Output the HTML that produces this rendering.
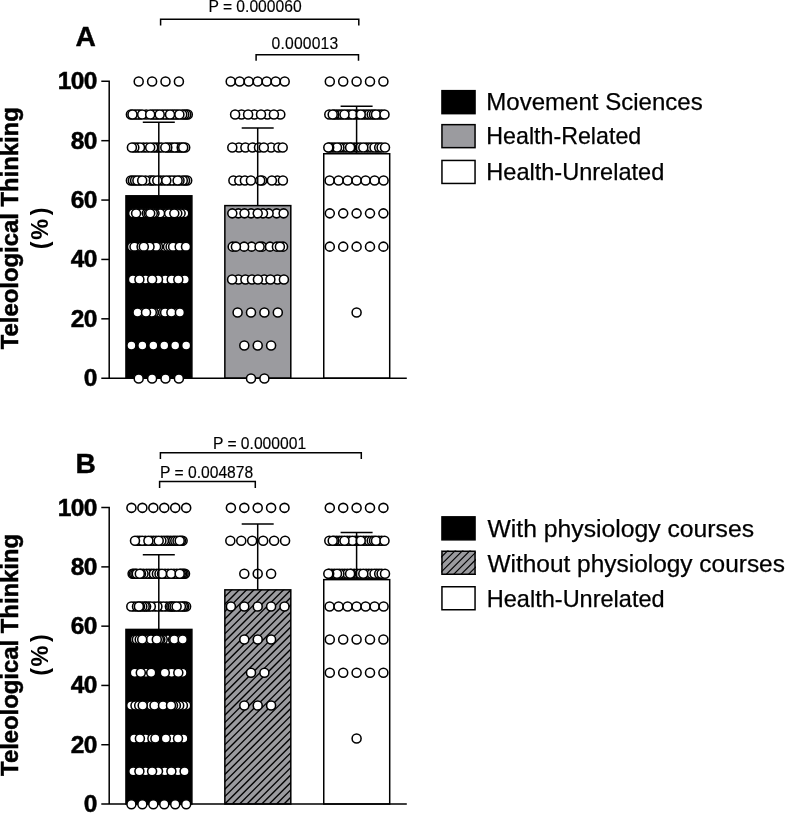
<!DOCTYPE html>
<html><head><meta charset="utf-8"><title>Teleological Thinking</title>
<style>
html,body{margin:0;padding:0;background:#fff;}
body{width:786px;height:814px;overflow:hidden;font-family:"Liberation Sans", sans-serif;}
svg{display:block;will-change:transform;}
</style></head><body>
<svg width="786" height="814" viewBox="0 0 786 814" font-family='"Liberation Sans", sans-serif' fill="#000">
<defs>
<clipPath id="clipB"><rect x="224.85" y="589.85" width="65.95" height="214.15"/></clipPath>
<clipPath id="lclipB"><rect x="441.2" y="550.5" width="34.7" height="24.5"/></clipPath>
</defs>
<rect x="125.95" y="195.81" width="65.95" height="182.39" fill="#000" stroke="#000" stroke-width="1.5"/>
<rect x="224.85" y="205.61" width="65.95" height="172.59" fill="#9b9b9f" stroke="#000" stroke-width="1.5"/>
<rect x="323.75" y="153.74" width="65.95" height="224.46" fill="#fff" stroke="#000" stroke-width="1.5"/>
<path d="M101.3 81.30 H109.2 V378.20 M101.3 378.20 H406.8" fill="none" stroke="#000" stroke-width="1.5"/>
<line x1="101.3" y1="318.82" x2="109.2" y2="318.82" stroke="#000" stroke-width="1.5"/>
<line x1="101.3" y1="259.44" x2="109.2" y2="259.44" stroke="#000" stroke-width="1.5"/>
<line x1="101.3" y1="200.06" x2="109.2" y2="200.06" stroke="#000" stroke-width="1.5"/>
<line x1="101.3" y1="140.68" x2="109.2" y2="140.68" stroke="#000" stroke-width="1.5"/>
<text x="96.9" y="386.20" text-anchor="end" font-weight="bold" font-size="24.5" letter-spacing="-0.6" stroke="#000" stroke-width="0.5">0</text>
<text x="96.9" y="326.82" text-anchor="end" font-weight="bold" font-size="24.5" letter-spacing="-0.6" stroke="#000" stroke-width="0.5">20</text>
<text x="96.9" y="267.44" text-anchor="end" font-weight="bold" font-size="24.5" letter-spacing="-0.6" stroke="#000" stroke-width="0.5">40</text>
<text x="96.9" y="208.06" text-anchor="end" font-weight="bold" font-size="24.5" letter-spacing="-0.6" stroke="#000" stroke-width="0.5">60</text>
<text x="96.9" y="148.68" text-anchor="end" font-weight="bold" font-size="24.5" letter-spacing="-0.6" stroke="#000" stroke-width="0.5">80</text>
<text x="96.9" y="89.30" text-anchor="end" font-weight="bold" font-size="24.5" letter-spacing="-0.6" stroke="#000" stroke-width="0.5">100</text>
<g fill="#fff" stroke="#000" stroke-width="1.55">
<circle cx="138.70" cy="81.55" r="4.5"/>
<circle cx="152.10" cy="81.55" r="4.5"/>
<circle cx="165.50" cy="81.55" r="4.5"/>
<circle cx="178.90" cy="81.55" r="4.5"/>
<circle cx="134.95" cy="114.51" r="4.5"/>
<circle cx="139.80" cy="114.51" r="4.5"/>
<circle cx="152.60" cy="114.51" r="4.5"/>
<circle cx="157.35" cy="114.51" r="4.5"/>
<circle cx="162.30" cy="114.51" r="4.5"/>
<circle cx="167.45" cy="114.51" r="4.5"/>
<circle cx="172.35" cy="114.51" r="4.5"/>
<circle cx="177.05" cy="114.51" r="4.5"/>
<circle cx="130.90" cy="114.51" r="4.5"/>
<circle cx="187.80" cy="114.51" r="4.5"/>
<circle cx="186.20" cy="114.51" r="4.5"/>
<circle cx="184.20" cy="114.51" r="4.5"/>
<circle cx="182.20" cy="114.51" r="4.5"/>
<circle cx="137.40" cy="114.51" r="4.5"/>
<circle cx="146.20" cy="114.51" r="4.5"/>
<circle cx="155.00" cy="114.51" r="4.5"/>
<circle cx="164.90" cy="114.51" r="4.5"/>
<circle cx="174.70" cy="114.51" r="4.5"/>
<circle cx="132.50" cy="114.51" r="4.5"/>
<circle cx="142.20" cy="114.51" r="4.5"/>
<circle cx="150.20" cy="114.51" r="4.5"/>
<circle cx="159.70" cy="114.51" r="4.5"/>
<circle cx="170.00" cy="114.51" r="4.5"/>
<circle cx="179.40" cy="114.51" r="4.5"/>
<circle cx="137.15" cy="147.46" r="4.5"/>
<circle cx="143.40" cy="147.46" r="4.5"/>
<circle cx="146.80" cy="147.46" r="4.5"/>
<circle cx="155.97" cy="147.46" r="4.5"/>
<circle cx="158.73" cy="147.46" r="4.5"/>
<circle cx="169.77" cy="147.46" r="4.5"/>
<circle cx="172.23" cy="147.46" r="4.5"/>
<circle cx="177.03" cy="147.46" r="4.5"/>
<circle cx="179.37" cy="147.46" r="4.5"/>
<circle cx="161.50" cy="147.46" r="4.5"/>
<circle cx="174.70" cy="147.46" r="4.5"/>
<circle cx="140.00" cy="147.46" r="4.5"/>
<circle cx="134.30" cy="147.46" r="4.5"/>
<circle cx="153.20" cy="147.46" r="4.5"/>
<circle cx="167.30" cy="147.46" r="4.5"/>
<circle cx="185.20" cy="147.46" r="4.5"/>
<circle cx="181.70" cy="147.46" r="4.5"/>
<circle cx="131.90" cy="147.46" r="4.5"/>
<circle cx="150.20" cy="147.46" r="4.5"/>
<circle cx="165.30" cy="147.46" r="4.5"/>
<circle cx="183.20" cy="147.46" r="4.5"/>
<circle cx="139.80" cy="180.42" r="4.5"/>
<circle cx="151.80" cy="180.42" r="4.5"/>
<circle cx="160.30" cy="180.42" r="4.5"/>
<circle cx="163.30" cy="180.42" r="4.5"/>
<circle cx="169.10" cy="180.42" r="4.5"/>
<circle cx="174.75" cy="180.42" r="4.5"/>
<circle cx="130.90" cy="180.42" r="4.5"/>
<circle cx="132.90" cy="180.42" r="4.5"/>
<circle cx="135.10" cy="180.42" r="4.5"/>
<circle cx="137.40" cy="180.42" r="4.5"/>
<circle cx="149.70" cy="180.42" r="4.5"/>
<circle cx="145.60" cy="180.42" r="4.5"/>
<circle cx="153.90" cy="180.42" r="4.5"/>
<circle cx="171.90" cy="180.42" r="4.5"/>
<circle cx="187.20" cy="180.42" r="4.5"/>
<circle cx="185.00" cy="180.42" r="4.5"/>
<circle cx="182.80" cy="180.42" r="4.5"/>
<circle cx="179.50" cy="180.42" r="4.5"/>
<circle cx="142.20" cy="180.42" r="4.5"/>
<circle cx="157.30" cy="180.42" r="4.5"/>
<circle cx="166.30" cy="180.42" r="4.5"/>
<circle cx="177.60" cy="180.42" r="4.5"/>
<circle cx="138.75" cy="213.37" r="4.5"/>
<circle cx="144.10" cy="213.37" r="4.5"/>
<circle cx="157.30" cy="213.37" r="4.5"/>
<circle cx="163.10" cy="213.37" r="4.5"/>
<circle cx="166.10" cy="213.37" r="4.5"/>
<circle cx="171.70" cy="213.37" r="4.5"/>
<circle cx="141.40" cy="213.37" r="4.5"/>
<circle cx="133.10" cy="213.37" r="4.5"/>
<circle cx="146.80" cy="213.37" r="4.5"/>
<circle cx="148.60" cy="213.37" r="4.5"/>
<circle cx="160.10" cy="213.37" r="4.5"/>
<circle cx="154.50" cy="213.37" r="4.5"/>
<circle cx="152.80" cy="213.37" r="4.5"/>
<circle cx="169.10" cy="213.37" r="4.5"/>
<circle cx="184.30" cy="213.37" r="4.5"/>
<circle cx="180.60" cy="213.37" r="4.5"/>
<circle cx="177.30" cy="213.37" r="4.5"/>
<circle cx="136.10" cy="213.37" r="4.5"/>
<circle cx="150.20" cy="213.37" r="4.5"/>
<circle cx="174.30" cy="213.37" r="4.5"/>
<circle cx="136.87" cy="246.63" r="4.5"/>
<circle cx="139.23" cy="246.63" r="4.5"/>
<circle cx="146.65" cy="246.63" r="4.5"/>
<circle cx="152.80" cy="246.63" r="4.5"/>
<circle cx="161.33" cy="246.63" r="4.5"/>
<circle cx="164.67" cy="246.63" r="4.5"/>
<circle cx="176.40" cy="246.63" r="4.5"/>
<circle cx="182.85" cy="246.63" r="4.5"/>
<circle cx="132.00" cy="246.63" r="4.5"/>
<circle cx="134.50" cy="246.63" r="4.5"/>
<circle cx="141.60" cy="246.63" r="4.5"/>
<circle cx="158.00" cy="246.63" r="4.5"/>
<circle cx="156.10" cy="246.63" r="4.5"/>
<circle cx="149.50" cy="246.63" r="4.5"/>
<circle cx="168.00" cy="246.63" r="4.5"/>
<circle cx="170.60" cy="246.63" r="4.5"/>
<circle cx="173.10" cy="246.63" r="4.5"/>
<circle cx="179.70" cy="246.63" r="4.5"/>
<circle cx="143.80" cy="246.63" r="4.5"/>
<circle cx="186.00" cy="246.63" r="4.5"/>
<circle cx="136.15" cy="279.58" r="4.5"/>
<circle cx="142.45" cy="279.58" r="4.5"/>
<circle cx="148.80" cy="279.58" r="4.5"/>
<circle cx="155.05" cy="279.58" r="4.5"/>
<circle cx="160.43" cy="279.58" r="4.5"/>
<circle cx="162.87" cy="279.58" r="4.5"/>
<circle cx="168.50" cy="279.58" r="4.5"/>
<circle cx="175.00" cy="279.58" r="4.5"/>
<circle cx="181.55" cy="279.58" r="4.5"/>
<circle cx="132.90" cy="279.58" r="4.5"/>
<circle cx="145.50" cy="279.58" r="4.5"/>
<circle cx="165.30" cy="279.58" r="4.5"/>
<circle cx="158.00" cy="279.58" r="4.5"/>
<circle cx="171.70" cy="279.58" r="4.5"/>
<circle cx="184.80" cy="279.58" r="4.5"/>
<circle cx="139.40" cy="279.58" r="4.5"/>
<circle cx="152.10" cy="279.58" r="4.5"/>
<circle cx="178.30" cy="279.58" r="4.5"/>
<circle cx="140.33" cy="312.54" r="4.5"/>
<circle cx="143.17" cy="312.54" r="4.5"/>
<circle cx="148.90" cy="312.54" r="4.5"/>
<circle cx="156.87" cy="312.54" r="4.5"/>
<circle cx="160.03" cy="312.54" r="4.5"/>
<circle cx="168.25" cy="312.54" r="4.5"/>
<circle cx="174.23" cy="312.54" r="4.5"/>
<circle cx="177.07" cy="312.54" r="4.5"/>
<circle cx="153.70" cy="312.54" r="4.5"/>
<circle cx="151.80" cy="312.54" r="4.5"/>
<circle cx="163.20" cy="312.54" r="4.5"/>
<circle cx="165.10" cy="312.54" r="4.5"/>
<circle cx="137.50" cy="312.54" r="4.5"/>
<circle cx="146.00" cy="312.54" r="4.5"/>
<circle cx="171.40" cy="312.54" r="4.5"/>
<circle cx="179.90" cy="312.54" r="4.5"/>
<circle cx="131.43" cy="345.49" r="4.5"/>
<circle cx="142.38" cy="345.49" r="4.5"/>
<circle cx="153.33" cy="345.49" r="4.5"/>
<circle cx="164.28" cy="345.49" r="4.5"/>
<circle cx="175.23" cy="345.49" r="4.5"/>
<circle cx="186.18" cy="345.49" r="4.5"/>
<circle cx="138.70" cy="378.45" r="4.5"/>
<circle cx="152.10" cy="378.45" r="4.5"/>
<circle cx="165.50" cy="378.45" r="4.5"/>
<circle cx="178.90" cy="378.45" r="4.5"/>
<circle cx="230.70" cy="81.55" r="4.5"/>
<circle cx="239.70" cy="81.55" r="4.5"/>
<circle cx="248.70" cy="81.55" r="4.5"/>
<circle cx="257.70" cy="81.55" r="4.5"/>
<circle cx="266.70" cy="81.55" r="4.5"/>
<circle cx="275.70" cy="81.55" r="4.5"/>
<circle cx="284.70" cy="81.55" r="4.5"/>
<circle cx="241.50" cy="114.51" r="4.5"/>
<circle cx="254.40" cy="114.51" r="4.5"/>
<circle cx="267.40" cy="114.51" r="4.5"/>
<circle cx="280.30" cy="114.51" r="4.5"/>
<circle cx="235.10" cy="114.51" r="4.5"/>
<circle cx="248.10" cy="114.51" r="4.5"/>
<circle cx="261.00" cy="114.51" r="4.5"/>
<circle cx="273.90" cy="114.51" r="4.5"/>
<circle cx="238.90" cy="147.46" r="4.5"/>
<circle cx="271.10" cy="147.46" r="4.5"/>
<circle cx="245.40" cy="147.46" r="4.5"/>
<circle cx="252.50" cy="147.46" r="4.5"/>
<circle cx="259.00" cy="147.46" r="4.5"/>
<circle cx="278.30" cy="147.46" r="4.5"/>
<circle cx="232.30" cy="147.46" r="4.5"/>
<circle cx="263.80" cy="147.46" r="4.5"/>
<circle cx="282.70" cy="147.46" r="4.5"/>
<circle cx="233.40" cy="180.42" r="4.5"/>
<circle cx="239.30" cy="180.42" r="4.5"/>
<circle cx="244.90" cy="180.42" r="4.5"/>
<circle cx="262.10" cy="180.42" r="4.5"/>
<circle cx="260.20" cy="180.42" r="4.5"/>
<circle cx="277.40" cy="180.42" r="4.5"/>
<circle cx="250.90" cy="180.42" r="4.5"/>
<circle cx="271.90" cy="180.42" r="4.5"/>
<circle cx="282.90" cy="180.42" r="4.5"/>
<circle cx="238.40" cy="213.37" r="4.5"/>
<circle cx="251.10" cy="213.37" r="4.5"/>
<circle cx="276.60" cy="213.37" r="4.5"/>
<circle cx="268.60" cy="213.37" r="4.5"/>
<circle cx="263.00" cy="213.37" r="4.5"/>
<circle cx="232.30" cy="213.37" r="4.5"/>
<circle cx="244.50" cy="213.37" r="4.5"/>
<circle cx="257.70" cy="213.37" r="4.5"/>
<circle cx="283.60" cy="213.37" r="4.5"/>
<circle cx="232.70" cy="246.63" r="4.5"/>
<circle cx="251.60" cy="246.63" r="4.5"/>
<circle cx="262.10" cy="246.63" r="4.5"/>
<circle cx="270.00" cy="246.63" r="4.5"/>
<circle cx="276.90" cy="246.63" r="4.5"/>
<circle cx="283.00" cy="246.63" r="4.5"/>
<circle cx="244.10" cy="246.63" r="4.5"/>
<circle cx="235.90" cy="246.63" r="4.5"/>
<circle cx="259.60" cy="246.63" r="4.5"/>
<circle cx="279.90" cy="246.63" r="4.5"/>
<circle cx="238.40" cy="279.58" r="4.5"/>
<circle cx="245.40" cy="279.58" r="4.5"/>
<circle cx="252.00" cy="279.58" r="4.5"/>
<circle cx="264.30" cy="279.58" r="4.5"/>
<circle cx="277.50" cy="279.58" r="4.5"/>
<circle cx="232.10" cy="279.58" r="4.5"/>
<circle cx="257.90" cy="279.58" r="4.5"/>
<circle cx="270.40" cy="279.58" r="4.5"/>
<circle cx="283.90" cy="279.58" r="4.5"/>
<circle cx="237.60" cy="312.54" r="4.5"/>
<circle cx="251.00" cy="312.54" r="4.5"/>
<circle cx="264.40" cy="312.54" r="4.5"/>
<circle cx="277.80" cy="312.54" r="4.5"/>
<circle cx="244.30" cy="345.49" r="4.5"/>
<circle cx="257.70" cy="345.49" r="4.5"/>
<circle cx="271.10" cy="345.49" r="4.5"/>
<circle cx="251.00" cy="378.45" r="4.5"/>
<circle cx="264.40" cy="378.45" r="4.5"/>
<circle cx="329.80" cy="81.55" r="4.5"/>
<circle cx="343.20" cy="81.55" r="4.5"/>
<circle cx="356.60" cy="81.55" r="4.5"/>
<circle cx="370.00" cy="81.55" r="4.5"/>
<circle cx="383.40" cy="81.55" r="4.5"/>
<circle cx="336.77" cy="114.51" r="4.5"/>
<circle cx="339.35" cy="114.51" r="4.5"/>
<circle cx="341.93" cy="114.51" r="4.5"/>
<circle cx="347.17" cy="114.51" r="4.5"/>
<circle cx="349.83" cy="114.51" r="4.5"/>
<circle cx="355.23" cy="114.51" r="4.5"/>
<circle cx="357.97" cy="114.51" r="4.5"/>
<circle cx="363.45" cy="114.51" r="4.5"/>
<circle cx="366.20" cy="114.51" r="4.5"/>
<circle cx="368.95" cy="114.51" r="4.5"/>
<circle cx="378.83" cy="114.51" r="4.5"/>
<circle cx="381.67" cy="114.51" r="4.5"/>
<circle cx="329.30" cy="114.51" r="4.5"/>
<circle cx="334.20" cy="114.51" r="4.5"/>
<circle cx="352.50" cy="114.51" r="4.5"/>
<circle cx="371.70" cy="114.51" r="4.5"/>
<circle cx="374.00" cy="114.51" r="4.5"/>
<circle cx="332.70" cy="114.51" r="4.5"/>
<circle cx="344.50" cy="114.51" r="4.5"/>
<circle cx="360.70" cy="114.51" r="4.5"/>
<circle cx="376.00" cy="114.51" r="4.5"/>
<circle cx="384.50" cy="114.51" r="4.5"/>
<circle cx="331.80" cy="147.46" r="4.5"/>
<circle cx="334.40" cy="147.46" r="4.5"/>
<circle cx="342.07" cy="147.46" r="4.5"/>
<circle cx="344.75" cy="147.46" r="4.5"/>
<circle cx="347.43" cy="147.46" r="4.5"/>
<circle cx="354.23" cy="147.46" r="4.5"/>
<circle cx="357.25" cy="147.46" r="4.5"/>
<circle cx="360.27" cy="147.46" r="4.5"/>
<circle cx="366.10" cy="147.46" r="4.5"/>
<circle cx="368.90" cy="147.46" r="4.5"/>
<circle cx="371.70" cy="147.46" r="4.5"/>
<circle cx="376.85" cy="147.46" r="4.5"/>
<circle cx="339.40" cy="147.46" r="4.5"/>
<circle cx="337.00" cy="147.46" r="4.5"/>
<circle cx="329.20" cy="147.46" r="4.5"/>
<circle cx="351.20" cy="147.46" r="4.5"/>
<circle cx="374.50" cy="147.46" r="4.5"/>
<circle cx="379.20" cy="147.46" r="4.5"/>
<circle cx="381.60" cy="147.46" r="4.5"/>
<circle cx="328.30" cy="147.46" r="4.5"/>
<circle cx="350.10" cy="147.46" r="4.5"/>
<circle cx="363.30" cy="147.46" r="4.5"/>
<circle cx="385.00" cy="147.46" r="4.5"/>
<circle cx="329.60" cy="180.42" r="4.5"/>
<circle cx="338.60" cy="180.42" r="4.5"/>
<circle cx="347.60" cy="180.42" r="4.5"/>
<circle cx="356.60" cy="180.42" r="4.5"/>
<circle cx="365.60" cy="180.42" r="4.5"/>
<circle cx="374.60" cy="180.42" r="4.5"/>
<circle cx="383.60" cy="180.42" r="4.5"/>
<circle cx="329.80" cy="213.37" r="4.5"/>
<circle cx="343.20" cy="213.37" r="4.5"/>
<circle cx="356.60" cy="213.37" r="4.5"/>
<circle cx="370.00" cy="213.37" r="4.5"/>
<circle cx="383.40" cy="213.37" r="4.5"/>
<circle cx="329.80" cy="246.63" r="4.5"/>
<circle cx="343.20" cy="246.63" r="4.5"/>
<circle cx="356.60" cy="246.63" r="4.5"/>
<circle cx="370.00" cy="246.63" r="4.5"/>
<circle cx="383.40" cy="246.63" r="4.5"/>
<circle cx="356.60" cy="312.54" r="4.5"/>
</g>
<path d="M142.80 122.27 H174.80 M158.80 122.27 V195.81" fill="none" stroke="#000" stroke-width="1.5"/>
<path d="M241.70 127.91 H273.70 M257.70 127.91 V205.61" fill="none" stroke="#000" stroke-width="1.5"/>
<path d="M340.60 106.24 H372.60 M356.60 106.24 V153.74" fill="none" stroke="#000" stroke-width="1.5"/>
<path d="M160.6 25.5 V19.3 H358.8 V25.5" fill="none" stroke="#000" stroke-width="1.5"/>
<text x="255.0" y="12.3" text-anchor="middle" font-size="15.65" stroke="#000" stroke-width="0.15">P = 0.000060</text>
<path d="M256.1 60.8 V54.7 H358.5 V60.8" fill="none" stroke="#000" stroke-width="1.5"/>
<text x="305.0" y="49.45" text-anchor="middle" font-size="15.65" stroke="#000" stroke-width="0.15"><tspan letter-spacing="0.2">0.000013</tspan></text>
<text x="75.5" y="45.5" font-weight="bold" font-size="28.2" stroke="#000" stroke-width="0.4">A</text>
<text transform="translate(18 228.25) rotate(-90)" text-anchor="middle" font-weight="bold" font-size="23.85" stroke="#000" stroke-width="0.5">Teleological Thinking</text>
<text transform="translate(48.4 249.15) rotate(-90)" text-anchor="start" font-weight="bold" font-size="23.4">(<tspan dx="1.6">%</tspan><tspan dx="3.7">)</tspan></text>
<rect x="441.95" y="90.65" width="33.10" height="23.00" fill="#000" stroke="#000" stroke-width="1.5"/>
<text x="486.28" y="110.2" font-size="23.6" textLength="216.43" lengthAdjust="spacingAndGlyphs" stroke="#000" stroke-width="0.25">Movement Sciences</text>
<rect x="441.95" y="124.65" width="33.10" height="23.00" fill="#9b9b9f" stroke="#000" stroke-width="1.5"/>
<text x="486.31" y="144.1" font-size="23.6" textLength="154.93" lengthAdjust="spacingAndGlyphs" stroke="#000" stroke-width="0.25">Health-Related</text>
<rect x="441.95" y="160.45" width="33.10" height="23.00" fill="#fff" stroke="#000" stroke-width="1.5"/>
<text x="486.31" y="180.4" font-size="23.6" textLength="177.93" lengthAdjust="spacingAndGlyphs" stroke="#000" stroke-width="0.25">Health-Unrelated</text>
<rect x="125.95" y="629.42" width="65.95" height="174.58" fill="#000" stroke="#000" stroke-width="1.5"/>
<rect x="224.85" y="589.85" width="65.95" height="214.15" fill="#9b9b9f"/>
<g clip-path="url(#clipB)" stroke="#000" stroke-width="1.35">
<line x1="219.85" y1="586.95" x2="295.80" y2="511.00"/>
<line x1="219.85" y1="594.35" x2="295.80" y2="518.40"/>
<line x1="219.85" y1="601.75" x2="295.80" y2="525.80"/>
<line x1="219.85" y1="609.15" x2="295.80" y2="533.20"/>
<line x1="219.85" y1="616.55" x2="295.80" y2="540.60"/>
<line x1="219.85" y1="623.95" x2="295.80" y2="548.00"/>
<line x1="219.85" y1="631.35" x2="295.80" y2="555.40"/>
<line x1="219.85" y1="638.75" x2="295.80" y2="562.80"/>
<line x1="219.85" y1="646.15" x2="295.80" y2="570.20"/>
<line x1="219.85" y1="653.55" x2="295.80" y2="577.60"/>
<line x1="219.85" y1="660.95" x2="295.80" y2="585.00"/>
<line x1="219.85" y1="668.35" x2="295.80" y2="592.40"/>
<line x1="219.85" y1="675.75" x2="295.80" y2="599.80"/>
<line x1="219.85" y1="683.15" x2="295.80" y2="607.20"/>
<line x1="219.85" y1="690.55" x2="295.80" y2="614.60"/>
<line x1="219.85" y1="697.95" x2="295.80" y2="622.00"/>
<line x1="219.85" y1="705.35" x2="295.80" y2="629.40"/>
<line x1="219.85" y1="712.75" x2="295.80" y2="636.80"/>
<line x1="219.85" y1="720.15" x2="295.80" y2="644.20"/>
<line x1="219.85" y1="727.55" x2="295.80" y2="651.60"/>
<line x1="219.85" y1="734.95" x2="295.80" y2="659.00"/>
<line x1="219.85" y1="742.35" x2="295.80" y2="666.40"/>
<line x1="219.85" y1="749.75" x2="295.80" y2="673.80"/>
<line x1="219.85" y1="757.15" x2="295.80" y2="681.20"/>
<line x1="219.85" y1="764.55" x2="295.80" y2="688.60"/>
<line x1="219.85" y1="771.95" x2="295.80" y2="696.00"/>
<line x1="219.85" y1="779.35" x2="295.80" y2="703.40"/>
<line x1="219.85" y1="786.75" x2="295.80" y2="710.80"/>
<line x1="219.85" y1="794.15" x2="295.80" y2="718.20"/>
<line x1="219.85" y1="801.55" x2="295.80" y2="725.60"/>
<line x1="219.85" y1="808.95" x2="295.80" y2="733.00"/>
<line x1="219.85" y1="816.35" x2="295.80" y2="740.40"/>
<line x1="219.85" y1="823.75" x2="295.80" y2="747.80"/>
<line x1="219.85" y1="831.15" x2="295.80" y2="755.20"/>
<line x1="219.85" y1="838.55" x2="295.80" y2="762.60"/>
<line x1="219.85" y1="845.95" x2="295.80" y2="770.00"/>
<line x1="219.85" y1="853.35" x2="295.80" y2="777.40"/>
<line x1="219.85" y1="860.75" x2="295.80" y2="784.80"/>
<line x1="219.85" y1="868.15" x2="295.80" y2="792.20"/>
<line x1="219.85" y1="875.55" x2="295.80" y2="799.60"/>
<line x1="219.85" y1="882.95" x2="295.80" y2="807.00"/>
</g>
<rect x="224.85" y="589.85" width="65.95" height="214.15" fill="none" stroke="#000" stroke-width="1.5"/>
<rect x="323.75" y="579.63" width="65.95" height="224.37" fill="#fff" stroke="#000" stroke-width="1.5"/>
<path d="M101.3 507.60 H109.2 V804.00 M101.3 804.00 H406.8" fill="none" stroke="#000" stroke-width="1.5"/>
<line x1="101.3" y1="744.72" x2="109.2" y2="744.72" stroke="#000" stroke-width="1.5"/>
<line x1="101.3" y1="685.44" x2="109.2" y2="685.44" stroke="#000" stroke-width="1.5"/>
<line x1="101.3" y1="626.16" x2="109.2" y2="626.16" stroke="#000" stroke-width="1.5"/>
<line x1="101.3" y1="566.88" x2="109.2" y2="566.88" stroke="#000" stroke-width="1.5"/>
<text x="96.9" y="812.00" text-anchor="end" font-weight="bold" font-size="24.5" letter-spacing="-0.6" stroke="#000" stroke-width="0.5">0</text>
<text x="96.9" y="752.72" text-anchor="end" font-weight="bold" font-size="24.5" letter-spacing="-0.6" stroke="#000" stroke-width="0.5">20</text>
<text x="96.9" y="693.44" text-anchor="end" font-weight="bold" font-size="24.5" letter-spacing="-0.6" stroke="#000" stroke-width="0.5">40</text>
<text x="96.9" y="634.16" text-anchor="end" font-weight="bold" font-size="24.5" letter-spacing="-0.6" stroke="#000" stroke-width="0.5">60</text>
<text x="96.9" y="574.88" text-anchor="end" font-weight="bold" font-size="24.5" letter-spacing="-0.6" stroke="#000" stroke-width="0.5">80</text>
<text x="96.9" y="515.60" text-anchor="end" font-weight="bold" font-size="24.5" letter-spacing="-0.6" stroke="#000" stroke-width="0.5">100</text>
<g fill="#fff" stroke="#000" stroke-width="1.55">
<circle cx="131.43" cy="507.85" r="4.5"/>
<circle cx="142.38" cy="507.85" r="4.5"/>
<circle cx="153.33" cy="507.85" r="4.5"/>
<circle cx="164.28" cy="507.85" r="4.5"/>
<circle cx="175.23" cy="507.85" r="4.5"/>
<circle cx="186.18" cy="507.85" r="4.5"/>
<circle cx="137.40" cy="540.75" r="4.5"/>
<circle cx="139.80" cy="540.75" r="4.5"/>
<circle cx="145.30" cy="540.75" r="4.5"/>
<circle cx="150.97" cy="540.75" r="4.5"/>
<circle cx="153.55" cy="540.75" r="4.5"/>
<circle cx="156.12" cy="540.75" r="4.5"/>
<circle cx="170.75" cy="540.75" r="4.5"/>
<circle cx="142.20" cy="540.75" r="4.5"/>
<circle cx="168.20" cy="540.75" r="4.5"/>
<circle cx="166.20" cy="540.75" r="4.5"/>
<circle cx="163.90" cy="540.75" r="4.5"/>
<circle cx="161.40" cy="540.75" r="4.5"/>
<circle cx="173.30" cy="540.75" r="4.5"/>
<circle cx="175.30" cy="540.75" r="4.5"/>
<circle cx="177.50" cy="540.75" r="4.5"/>
<circle cx="182.60" cy="540.75" r="4.5"/>
<circle cx="181.00" cy="540.75" r="4.5"/>
<circle cx="135.00" cy="540.75" r="4.5"/>
<circle cx="148.40" cy="540.75" r="4.5"/>
<circle cx="158.70" cy="540.75" r="4.5"/>
<circle cx="179.70" cy="540.75" r="4.5"/>
<circle cx="148.97" cy="573.65" r="4.5"/>
<circle cx="151.43" cy="573.65" r="4.5"/>
<circle cx="165.03" cy="573.65" r="4.5"/>
<circle cx="168.07" cy="573.65" r="4.5"/>
<circle cx="173.97" cy="573.65" r="4.5"/>
<circle cx="176.83" cy="573.65" r="4.5"/>
<circle cx="146.50" cy="573.65" r="4.5"/>
<circle cx="143.50" cy="573.65" r="4.5"/>
<circle cx="132.60" cy="573.65" r="4.5"/>
<circle cx="134.00" cy="573.65" r="4.5"/>
<circle cx="135.40" cy="573.65" r="4.5"/>
<circle cx="136.80" cy="573.65" r="4.5"/>
<circle cx="141.00" cy="573.65" r="4.5"/>
<circle cx="153.90" cy="573.65" r="4.5"/>
<circle cx="156.90" cy="573.65" r="4.5"/>
<circle cx="159.50" cy="573.65" r="4.5"/>
<circle cx="185.00" cy="573.65" r="4.5"/>
<circle cx="183.60" cy="573.65" r="4.5"/>
<circle cx="182.20" cy="573.65" r="4.5"/>
<circle cx="180.80" cy="573.65" r="4.5"/>
<circle cx="139.80" cy="573.65" r="4.5"/>
<circle cx="162.00" cy="573.65" r="4.5"/>
<circle cx="171.10" cy="573.65" r="4.5"/>
<circle cx="179.70" cy="573.65" r="4.5"/>
<circle cx="134.15" cy="606.55" r="4.5"/>
<circle cx="148.45" cy="606.55" r="4.5"/>
<circle cx="154.10" cy="606.55" r="4.5"/>
<circle cx="160.50" cy="606.55" r="4.5"/>
<circle cx="166.75" cy="606.55" r="4.5"/>
<circle cx="178.75" cy="606.55" r="4.5"/>
<circle cx="163.60" cy="606.55" r="4.5"/>
<circle cx="131.30" cy="606.55" r="4.5"/>
<circle cx="137.00" cy="606.55" r="4.5"/>
<circle cx="157.40" cy="606.55" r="4.5"/>
<circle cx="150.80" cy="606.55" r="4.5"/>
<circle cx="146.10" cy="606.55" r="4.5"/>
<circle cx="144.70" cy="606.55" r="4.5"/>
<circle cx="142.30" cy="606.55" r="4.5"/>
<circle cx="140.00" cy="606.55" r="4.5"/>
<circle cx="169.90" cy="606.55" r="4.5"/>
<circle cx="171.30" cy="606.55" r="4.5"/>
<circle cx="172.80" cy="606.55" r="4.5"/>
<circle cx="174.60" cy="606.55" r="4.5"/>
<circle cx="186.10" cy="606.55" r="4.5"/>
<circle cx="184.20" cy="606.55" r="4.5"/>
<circle cx="182.80" cy="606.55" r="4.5"/>
<circle cx="180.90" cy="606.55" r="4.5"/>
<circle cx="138.90" cy="606.55" r="4.5"/>
<circle cx="176.60" cy="606.55" r="4.5"/>
<circle cx="145.13" cy="639.45" r="4.5"/>
<circle cx="148.07" cy="639.45" r="4.5"/>
<circle cx="153.90" cy="639.45" r="4.5"/>
<circle cx="165.30" cy="639.45" r="4.5"/>
<circle cx="170.50" cy="639.45" r="4.5"/>
<circle cx="177.10" cy="639.45" r="4.5"/>
<circle cx="179.90" cy="639.45" r="4.5"/>
<circle cx="167.90" cy="639.45" r="4.5"/>
<circle cx="135.00" cy="639.45" r="4.5"/>
<circle cx="136.90" cy="639.45" r="4.5"/>
<circle cx="139.70" cy="639.45" r="4.5"/>
<circle cx="151.00" cy="639.45" r="4.5"/>
<circle cx="162.70" cy="639.45" r="4.5"/>
<circle cx="160.30" cy="639.45" r="4.5"/>
<circle cx="158.90" cy="639.45" r="4.5"/>
<circle cx="173.10" cy="639.45" r="4.5"/>
<circle cx="142.20" cy="639.45" r="4.5"/>
<circle cx="156.80" cy="639.45" r="4.5"/>
<circle cx="174.30" cy="639.45" r="4.5"/>
<circle cx="182.70" cy="639.45" r="4.5"/>
<circle cx="137.80" cy="672.65" r="4.5"/>
<circle cx="143.40" cy="672.65" r="4.5"/>
<circle cx="148.60" cy="672.65" r="4.5"/>
<circle cx="168.20" cy="672.65" r="4.5"/>
<circle cx="174.95" cy="672.65" r="4.5"/>
<circle cx="146.00" cy="672.65" r="4.5"/>
<circle cx="171.60" cy="672.65" r="4.5"/>
<circle cx="134.80" cy="672.65" r="4.5"/>
<circle cx="182.50" cy="672.65" r="4.5"/>
<circle cx="140.80" cy="672.65" r="4.5"/>
<circle cx="151.20" cy="672.65" r="4.5"/>
<circle cx="164.80" cy="672.65" r="4.5"/>
<circle cx="178.30" cy="672.65" r="4.5"/>
<circle cx="133.35" cy="705.55" r="4.5"/>
<circle cx="145.53" cy="705.55" r="4.5"/>
<circle cx="148.37" cy="705.55" r="4.5"/>
<circle cx="157.33" cy="705.55" r="4.5"/>
<circle cx="160.17" cy="705.55" r="4.5"/>
<circle cx="165.67" cy="705.55" r="4.5"/>
<circle cx="168.33" cy="705.55" r="4.5"/>
<circle cx="131.20" cy="705.55" r="4.5"/>
<circle cx="135.50" cy="705.55" r="4.5"/>
<circle cx="139.20" cy="705.55" r="4.5"/>
<circle cx="151.20" cy="705.55" r="4.5"/>
<circle cx="186.20" cy="705.55" r="4.5"/>
<circle cx="182.90" cy="705.55" r="4.5"/>
<circle cx="179.20" cy="705.55" r="4.5"/>
<circle cx="175.90" cy="705.55" r="4.5"/>
<circle cx="173.00" cy="705.55" r="4.5"/>
<circle cx="142.70" cy="705.55" r="4.5"/>
<circle cx="154.50" cy="705.55" r="4.5"/>
<circle cx="163.00" cy="705.55" r="4.5"/>
<circle cx="171.00" cy="705.55" r="4.5"/>
<circle cx="137.05" cy="738.45" r="4.5"/>
<circle cx="142.65" cy="738.45" r="4.5"/>
<circle cx="147.73" cy="738.45" r="4.5"/>
<circle cx="150.07" cy="738.45" r="4.5"/>
<circle cx="168.60" cy="738.45" r="4.5"/>
<circle cx="174.70" cy="738.45" r="4.5"/>
<circle cx="180.70" cy="738.45" r="4.5"/>
<circle cx="134.20" cy="738.45" r="4.5"/>
<circle cx="145.40" cy="738.45" r="4.5"/>
<circle cx="152.40" cy="738.45" r="4.5"/>
<circle cx="171.40" cy="738.45" r="4.5"/>
<circle cx="183.40" cy="738.45" r="4.5"/>
<circle cx="139.90" cy="738.45" r="4.5"/>
<circle cx="155.40" cy="738.45" r="4.5"/>
<circle cx="165.80" cy="738.45" r="4.5"/>
<circle cx="178.00" cy="738.45" r="4.5"/>
<circle cx="136.35" cy="771.35" r="4.5"/>
<circle cx="142.45" cy="771.35" r="4.5"/>
<circle cx="148.80" cy="771.35" r="4.5"/>
<circle cx="155.05" cy="771.35" r="4.5"/>
<circle cx="160.27" cy="771.35" r="4.5"/>
<circle cx="162.53" cy="771.35" r="4.5"/>
<circle cx="168.10" cy="771.35" r="4.5"/>
<circle cx="174.70" cy="771.35" r="4.5"/>
<circle cx="181.30" cy="771.35" r="4.5"/>
<circle cx="133.30" cy="771.35" r="4.5"/>
<circle cx="145.50" cy="771.35" r="4.5"/>
<circle cx="164.80" cy="771.35" r="4.5"/>
<circle cx="158.00" cy="771.35" r="4.5"/>
<circle cx="178.00" cy="771.35" r="4.5"/>
<circle cx="139.40" cy="771.35" r="4.5"/>
<circle cx="152.10" cy="771.35" r="4.5"/>
<circle cx="171.40" cy="771.35" r="4.5"/>
<circle cx="184.60" cy="771.35" r="4.5"/>
<circle cx="131.43" cy="804.25" r="4.5"/>
<circle cx="142.38" cy="804.25" r="4.5"/>
<circle cx="153.33" cy="804.25" r="4.5"/>
<circle cx="164.28" cy="804.25" r="4.5"/>
<circle cx="175.23" cy="804.25" r="4.5"/>
<circle cx="186.18" cy="804.25" r="4.5"/>
<circle cx="230.90" cy="507.85" r="4.5"/>
<circle cx="244.30" cy="507.85" r="4.5"/>
<circle cx="257.70" cy="507.85" r="4.5"/>
<circle cx="271.10" cy="507.85" r="4.5"/>
<circle cx="284.50" cy="507.85" r="4.5"/>
<circle cx="230.32" cy="540.75" r="4.5"/>
<circle cx="241.27" cy="540.75" r="4.5"/>
<circle cx="252.22" cy="540.75" r="4.5"/>
<circle cx="263.18" cy="540.75" r="4.5"/>
<circle cx="274.12" cy="540.75" r="4.5"/>
<circle cx="285.07" cy="540.75" r="4.5"/>
<circle cx="244.30" cy="573.65" r="4.5"/>
<circle cx="257.70" cy="573.65" r="4.5"/>
<circle cx="271.10" cy="573.65" r="4.5"/>
<circle cx="230.90" cy="606.55" r="4.5"/>
<circle cx="244.30" cy="606.55" r="4.5"/>
<circle cx="257.70" cy="606.55" r="4.5"/>
<circle cx="271.10" cy="606.55" r="4.5"/>
<circle cx="284.50" cy="606.55" r="4.5"/>
<circle cx="244.30" cy="639.45" r="4.5"/>
<circle cx="257.70" cy="639.45" r="4.5"/>
<circle cx="271.10" cy="639.45" r="4.5"/>
<circle cx="251.00" cy="672.65" r="4.5"/>
<circle cx="264.40" cy="672.65" r="4.5"/>
<circle cx="244.30" cy="705.55" r="4.5"/>
<circle cx="257.70" cy="705.55" r="4.5"/>
<circle cx="271.10" cy="705.55" r="4.5"/>
<circle cx="329.80" cy="507.85" r="4.5"/>
<circle cx="343.20" cy="507.85" r="4.5"/>
<circle cx="356.60" cy="507.85" r="4.5"/>
<circle cx="370.00" cy="507.85" r="4.5"/>
<circle cx="383.40" cy="507.85" r="4.5"/>
<circle cx="336.77" cy="540.75" r="4.5"/>
<circle cx="339.35" cy="540.75" r="4.5"/>
<circle cx="341.93" cy="540.75" r="4.5"/>
<circle cx="347.17" cy="540.75" r="4.5"/>
<circle cx="349.83" cy="540.75" r="4.5"/>
<circle cx="355.23" cy="540.75" r="4.5"/>
<circle cx="357.97" cy="540.75" r="4.5"/>
<circle cx="363.45" cy="540.75" r="4.5"/>
<circle cx="366.20" cy="540.75" r="4.5"/>
<circle cx="368.95" cy="540.75" r="4.5"/>
<circle cx="378.83" cy="540.75" r="4.5"/>
<circle cx="381.67" cy="540.75" r="4.5"/>
<circle cx="329.30" cy="540.75" r="4.5"/>
<circle cx="334.20" cy="540.75" r="4.5"/>
<circle cx="352.50" cy="540.75" r="4.5"/>
<circle cx="371.70" cy="540.75" r="4.5"/>
<circle cx="374.00" cy="540.75" r="4.5"/>
<circle cx="332.70" cy="540.75" r="4.5"/>
<circle cx="344.50" cy="540.75" r="4.5"/>
<circle cx="360.70" cy="540.75" r="4.5"/>
<circle cx="376.00" cy="540.75" r="4.5"/>
<circle cx="384.50" cy="540.75" r="4.5"/>
<circle cx="331.80" cy="573.65" r="4.5"/>
<circle cx="334.40" cy="573.65" r="4.5"/>
<circle cx="342.07" cy="573.65" r="4.5"/>
<circle cx="344.75" cy="573.65" r="4.5"/>
<circle cx="347.43" cy="573.65" r="4.5"/>
<circle cx="354.23" cy="573.65" r="4.5"/>
<circle cx="357.25" cy="573.65" r="4.5"/>
<circle cx="360.27" cy="573.65" r="4.5"/>
<circle cx="366.10" cy="573.65" r="4.5"/>
<circle cx="368.90" cy="573.65" r="4.5"/>
<circle cx="371.70" cy="573.65" r="4.5"/>
<circle cx="376.85" cy="573.65" r="4.5"/>
<circle cx="339.40" cy="573.65" r="4.5"/>
<circle cx="337.00" cy="573.65" r="4.5"/>
<circle cx="329.20" cy="573.65" r="4.5"/>
<circle cx="351.20" cy="573.65" r="4.5"/>
<circle cx="374.50" cy="573.65" r="4.5"/>
<circle cx="379.20" cy="573.65" r="4.5"/>
<circle cx="381.60" cy="573.65" r="4.5"/>
<circle cx="328.30" cy="573.65" r="4.5"/>
<circle cx="350.10" cy="573.65" r="4.5"/>
<circle cx="363.30" cy="573.65" r="4.5"/>
<circle cx="385.00" cy="573.65" r="4.5"/>
<circle cx="329.60" cy="606.55" r="4.5"/>
<circle cx="338.60" cy="606.55" r="4.5"/>
<circle cx="347.60" cy="606.55" r="4.5"/>
<circle cx="356.60" cy="606.55" r="4.5"/>
<circle cx="365.60" cy="606.55" r="4.5"/>
<circle cx="374.60" cy="606.55" r="4.5"/>
<circle cx="383.60" cy="606.55" r="4.5"/>
<circle cx="329.80" cy="639.45" r="4.5"/>
<circle cx="343.20" cy="639.45" r="4.5"/>
<circle cx="356.60" cy="639.45" r="4.5"/>
<circle cx="370.00" cy="639.45" r="4.5"/>
<circle cx="383.40" cy="639.45" r="4.5"/>
<circle cx="329.80" cy="672.65" r="4.5"/>
<circle cx="343.20" cy="672.65" r="4.5"/>
<circle cx="356.60" cy="672.65" r="4.5"/>
<circle cx="370.00" cy="672.65" r="4.5"/>
<circle cx="383.40" cy="672.65" r="4.5"/>
<circle cx="356.60" cy="738.45" r="4.5"/>
</g>
<path d="M142.80 554.73 H174.80 M158.80 554.73 V629.42" fill="none" stroke="#000" stroke-width="1.5"/>
<path d="M241.70 523.90 H273.70 M257.70 523.90 V589.85" fill="none" stroke="#000" stroke-width="1.5"/>
<path d="M340.60 532.50 H372.60 M356.60 532.50 V579.63" fill="none" stroke="#000" stroke-width="1.5"/>
<path d="M160.4 459.0 V452.8 H361.3 V459.0" fill="none" stroke="#000" stroke-width="1.5"/>
<text x="259.5" y="449.4" text-anchor="middle" font-size="15.65" stroke="#000" stroke-width="0.15">P = 0.000001</text>
<path d="M159.6 488.0 V481.6 H255.3 V488.0" fill="none" stroke="#000" stroke-width="1.5"/>
<text x="160.0" y="477.5" text-anchor="start" font-size="15.65" stroke="#000" stroke-width="0.15">P = 0.004878</text>
<text x="75.6" y="473.0" font-weight="bold" font-size="28.2" stroke="#000" stroke-width="0.4">B</text>
<text transform="translate(18 654.90) rotate(-90)" text-anchor="middle" font-weight="bold" font-size="23.85" stroke="#000" stroke-width="0.5">Teleological Thinking</text>
<text transform="translate(48.4 675.80) rotate(-90)" text-anchor="start" font-weight="bold" font-size="23.4">(<tspan dx="1.6">%</tspan><tspan dx="3.7">)</tspan></text>
<rect x="441.95" y="516.85" width="33.10" height="23.00" fill="#000" stroke="#000" stroke-width="1.5"/>
<text x="487.48" y="537.0" font-size="24.4" textLength="266.55" lengthAdjust="spacingAndGlyphs" stroke="#000" stroke-width="0.25">With physiology courses</text>
<rect x="441.95" y="551.25" width="33.10" height="23.00" fill="#9b9b9f"/>
<g clip-path="url(#lclipB)" stroke="#000" stroke-width="1.15">
<line x1="436" y1="547.60" x2="481" y2="502.60"/>
<line x1="436" y1="555.00" x2="481" y2="510.00"/>
<line x1="436" y1="562.40" x2="481" y2="517.40"/>
<line x1="436" y1="569.80" x2="481" y2="524.80"/>
<line x1="436" y1="577.20" x2="481" y2="532.20"/>
<line x1="436" y1="584.60" x2="481" y2="539.60"/>
<line x1="436" y1="592.00" x2="481" y2="547.00"/>
<line x1="436" y1="599.40" x2="481" y2="554.40"/>
<line x1="436" y1="606.80" x2="481" y2="561.80"/>
<line x1="436" y1="614.20" x2="481" y2="569.20"/>
<line x1="436" y1="621.60" x2="481" y2="576.60"/>
<line x1="436" y1="629.00" x2="481" y2="584.00"/>
<line x1="436" y1="636.40" x2="481" y2="591.40"/>
<line x1="436" y1="643.80" x2="481" y2="598.80"/>
</g>
<rect x="441.95" y="551.25" width="33.10" height="23.00" fill="none" stroke="#000" stroke-width="1.5"/>
<text x="487.48" y="571.6" font-size="24.4" textLength="297.45" lengthAdjust="spacingAndGlyphs" stroke="#000" stroke-width="0.25">Without physiology courses</text>
<rect x="441.95" y="586.75" width="33.10" height="23.00" fill="#fff" stroke="#000" stroke-width="1.5"/>
<text x="486.81" y="606.7" font-size="23.6" textLength="177.83" lengthAdjust="spacingAndGlyphs" stroke="#000" stroke-width="0.25">Health-Unrelated</text>
</svg>
</body></html>
